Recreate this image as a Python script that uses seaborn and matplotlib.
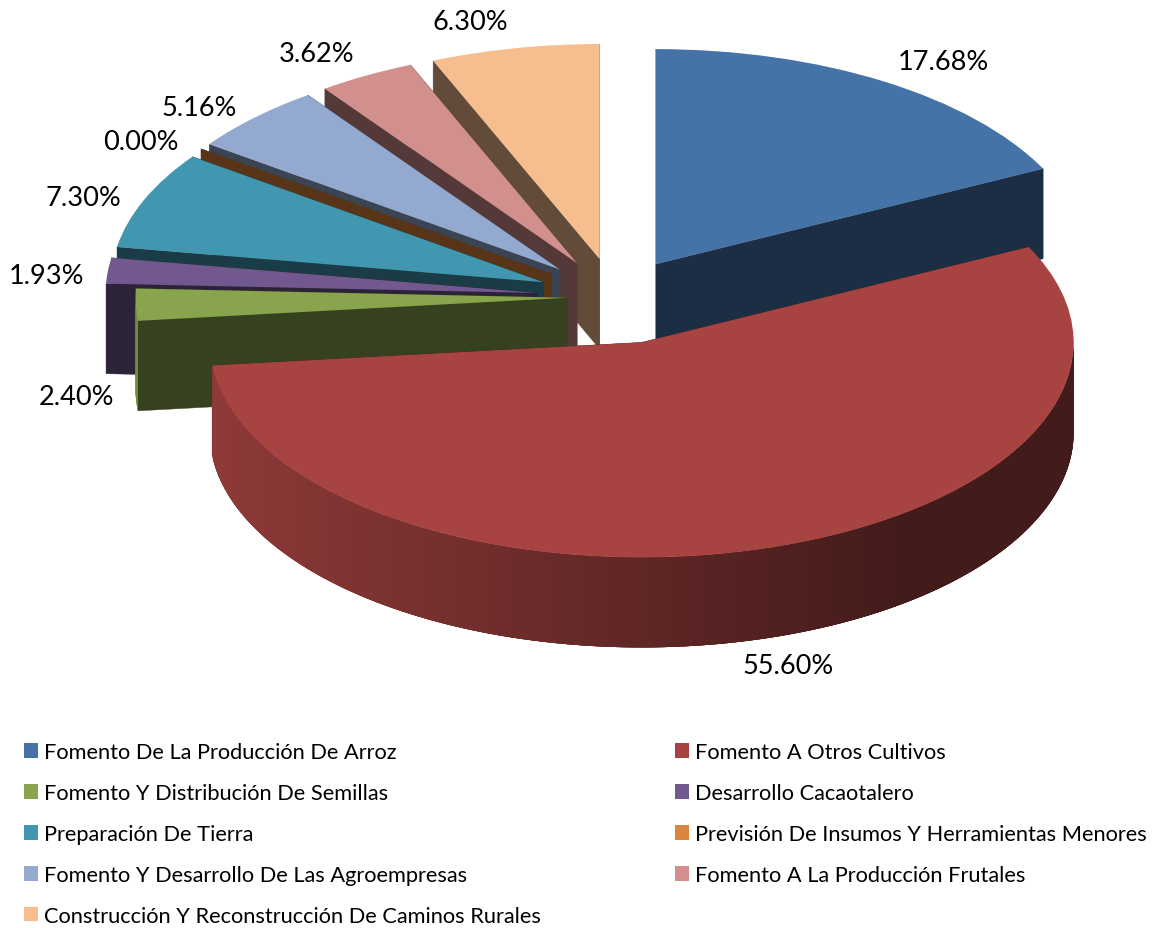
import numpy as np
import matplotlib
matplotlib.use("Agg")
import matplotlib.pyplot as plt
from matplotlib.patches import Patch
import seaborn as sns

categories = ["Fomento De La Producción De Arroz", "Fomento A Otros Cultivos",
              "Fomento Y Distribución De Semillas", "Desarrollo Cacaotalero",
              "Preparación De Tierra", "Previsión De Insumos Y Herramientas Menores",
              "Fomento Y Desarrollo De Las Agroempresas", "Fomento A La Producción Frutales",
              "Construcción Y Reconstrucción De Caminos Rurales"]
values = [17.68, 55.60, 2.40, 1.93, 7.30, 0.00, 5.16, 3.62, 6.30]
value_labels = ["17.68%", "55.60%", "2.40%", "1.93%", "7.30%", "0.00%", "5.16%", "3.62%", "6.30%"]
hex_colors = ["#4572a7", "#a74442", "#88a44d", "#71588f", "#4197af", "#db843d", "#93a9cf", "#d18f8d", "#f6be8e"]
explode = [0.18, 0.22, 0.11, 0.18, 0.18, 0.18, 0.18, 0.18, 0.18]
label_px = [(943, 62), (788, 667), (76, 398), (47, 277), (83, 199), (141, 142), (199, 108), (317, 54), (470, 23)]
draw_order = [8, 7, 6, 5, 4, 3, 0, 2, 1]

W, H = 1161, 929
RX, RY, CX, CY, DEPTH = 432.0, 215.0, 615.0, 298.0, 90.0

sns.set_theme(style="white")
plt.rcParams["font.family"] = ["Lato", "DejaVu Sans"]
palette = sns.color_palette(hex_colors)

fig = plt.figure(figsize=(W / 100, H / 100), dpi=100, facecolor="white")
ax = fig.add_axes([0, 0, 1, 1])
wedges, _ = ax.pie(values, colors=palette, explode=explode, startangle=90, counterclock=False,
                   wedgeprops=dict(linewidth=0))
ax.set_aspect("auto")
ax.set_xlim(-CX / RX, (W - CX) / RX)
ax.set_ylim(-(H - CY) / RY, CY / RY)
ax.axis("off")

d = DEPTH / RY


def shade(col, f):
    return tuple(c * f for c in col)


for z, i in enumerate(draw_order):
    w = wedges[i]
    col = palette[i]
    cx, cy = w.center
    base = 10 + 2 * z
    w.set_zorder(base + 1)
    for th in (w.theta1, w.theta2):
        ex = cx + w.r * np.cos(np.radians(th))
        ey = cy + w.r * np.sin(np.radians(th))
        ax.fill([cx, ex, ex, cx], [cy, ey, ey - d, cy - d], color=shade(col, 0.4),
                lw=0.3, zorder=base)
    if w.theta2 > w.theta1:
        # outer wall: overlapping strips from left to right, so no seams show
        edges = np.arange(w.theta1, w.theta2, 0.5)
        for a in edges:
            b = min(a + 2.0, w.theta2)
            m = np.radians(a + 0.25)
            if np.sin(m) >= 0:
                continue
            f = np.interp(np.cos(m), [-1, 0.6], [0.85, 0.4])
            arc = np.radians(np.linspace(a, b, 5))
            xs = cx + w.r * np.cos(arc)
            ys = cy + w.r * np.sin(arc)
            ax.fill(np.r_[xs, xs[::-1]], np.r_[ys, ys[::-1] - d], color=shade(col, f),
                    lw=0, zorder=base)

for txt, (px, py) in zip(value_labels, label_px):
    fig.text(px / W, 1 - py / H, txt, ha="center", va="center", fontsize=19.5, color="black")

order = [0, 2, 4, 6, 8, 1, 3, 5, 7]
handles = [Patch(facecolor=palette[i], edgecolor="none", label=categories[i]) for i in order]
ax.legend(handles=handles, ncols=2, loc="upper left", bbox_to_anchor=(19.7 / W, 1 - 739 / H),
          bbox_transform=fig.transFigure, frameon=False, fontsize=15.65, handlelength=0.65,
          handleheight=0.65, handletextpad=0.28, labelspacing=0.96, columnspacing=6.15,
          borderpad=0.2, borderaxespad=0, labelcolor="black")

fig.savefig("out.png", dpi=100, facecolor="white")
